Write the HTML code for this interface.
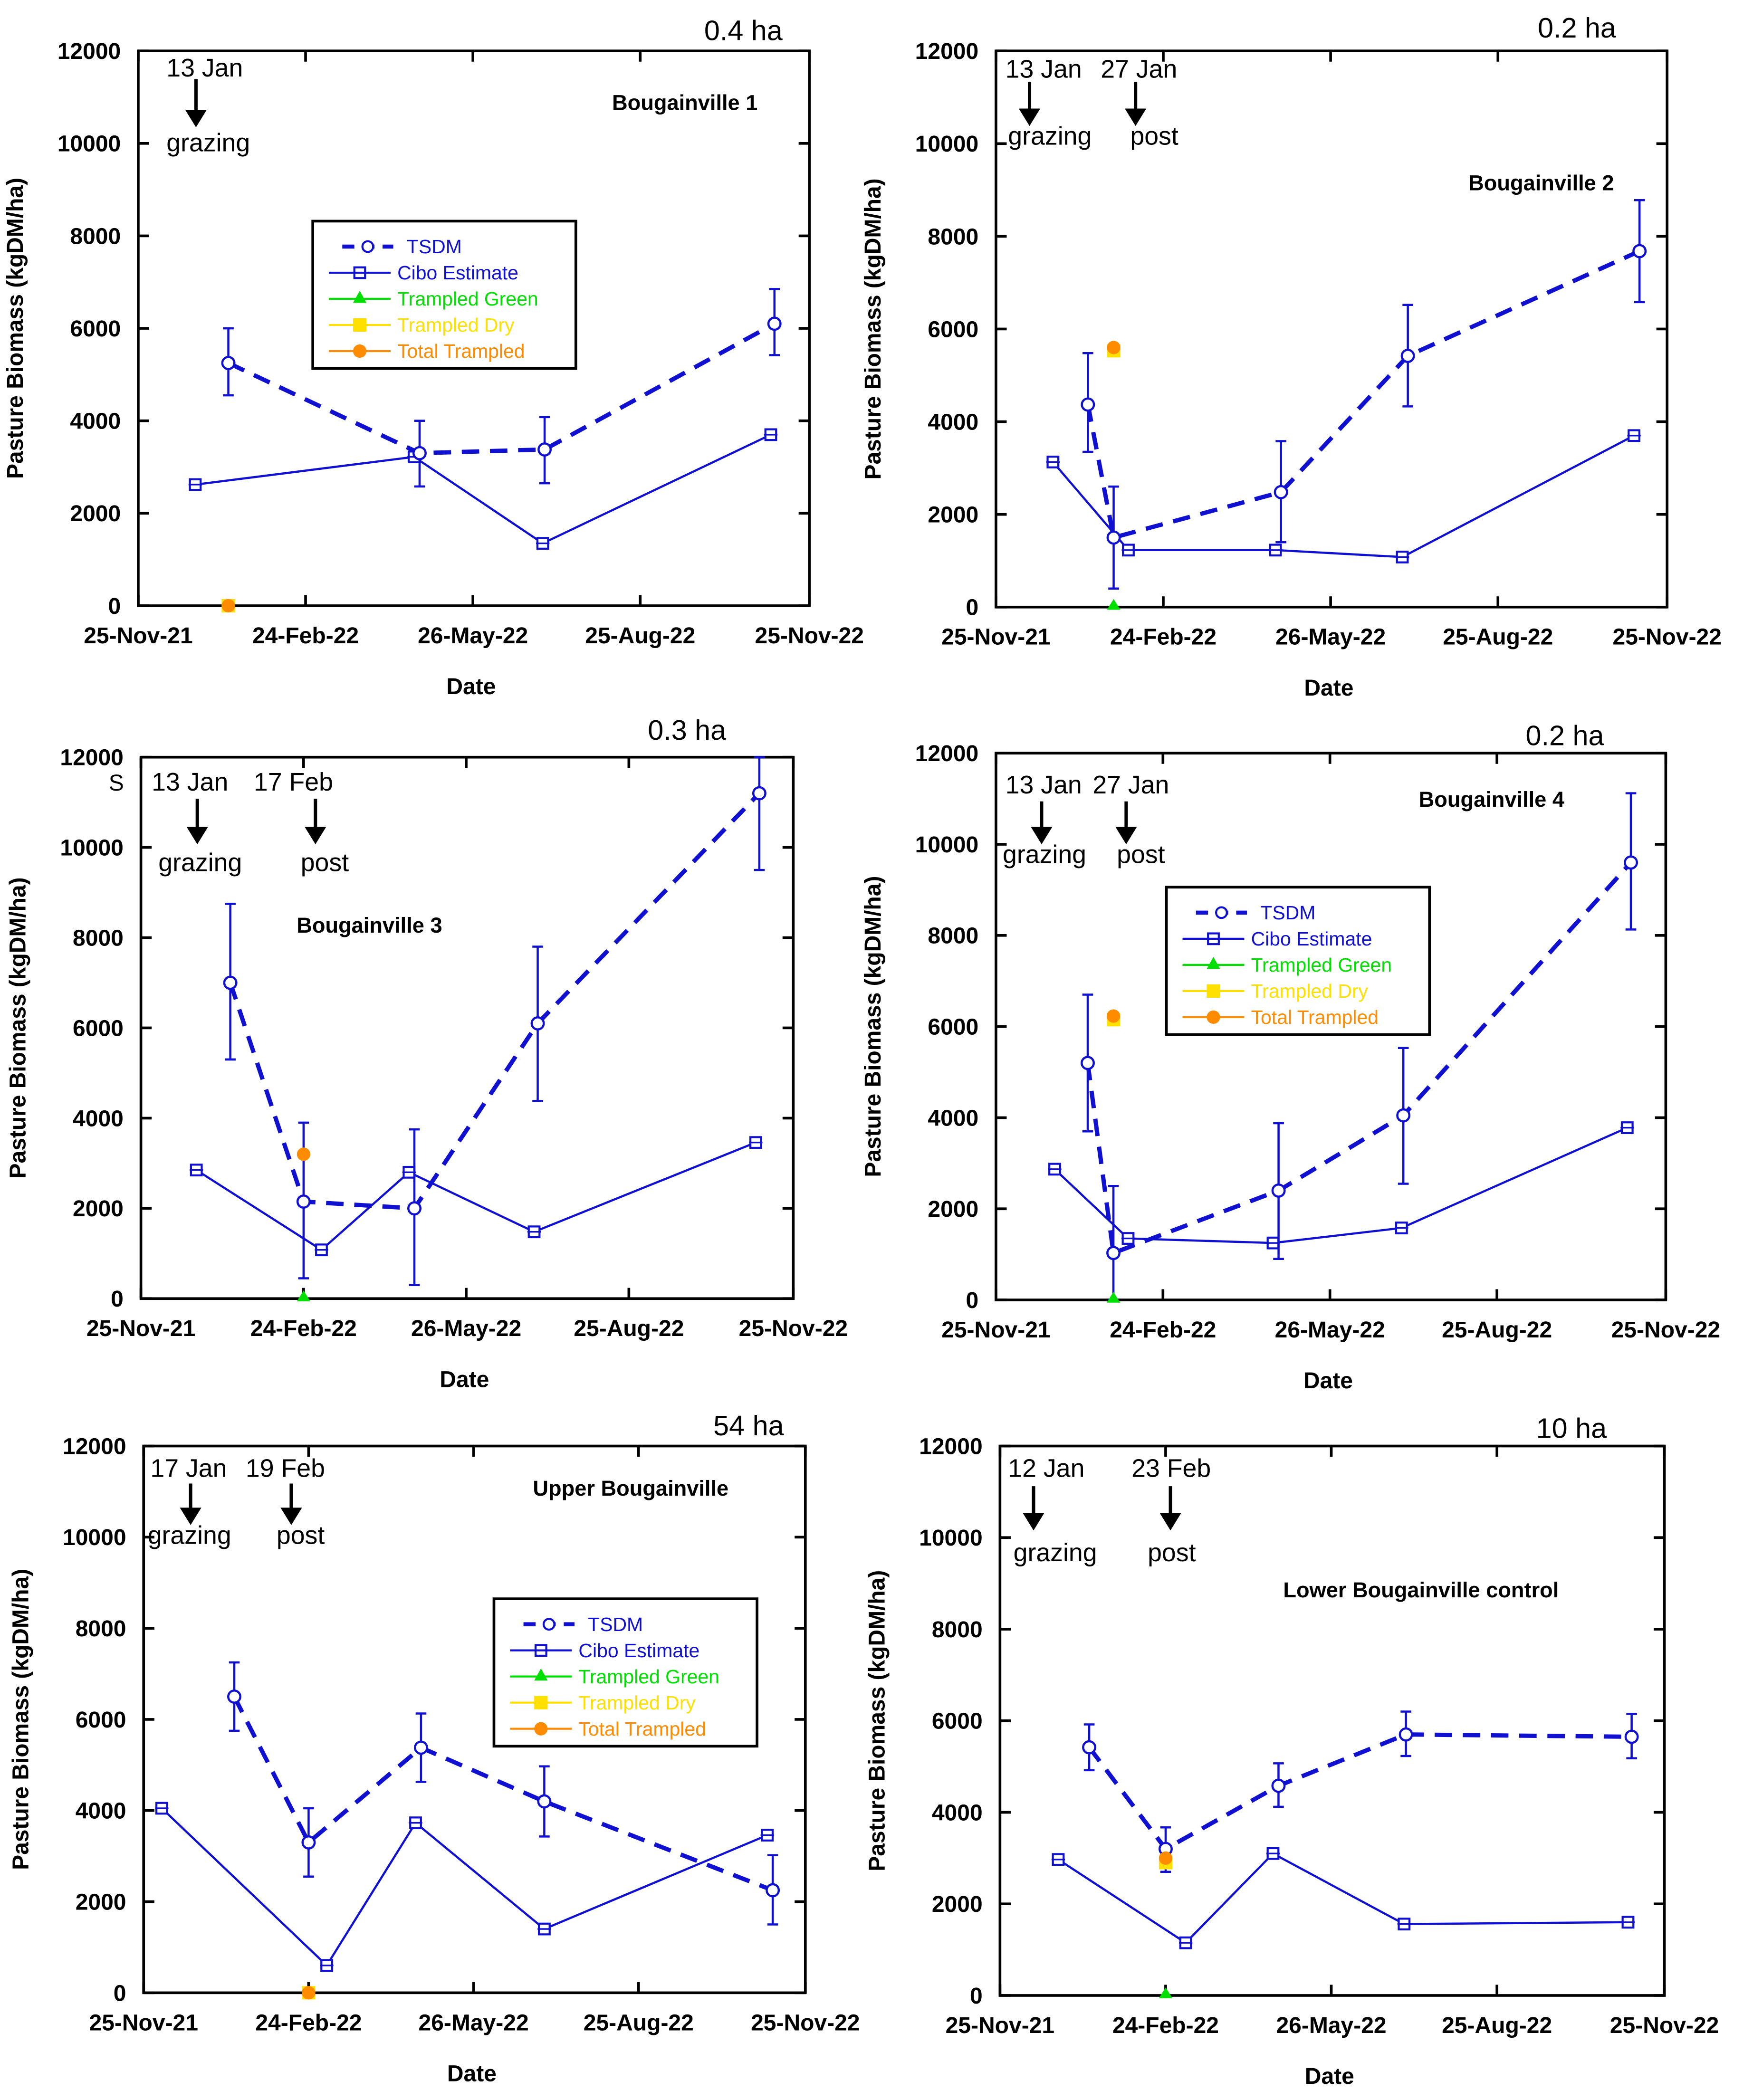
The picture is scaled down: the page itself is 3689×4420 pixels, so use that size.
<!DOCTYPE html>
<html><head><meta charset="utf-8"><style>
html,body{margin:0;padding:0;background:#fff}
svg{display:block}
text{font-family:"Liberation Sans",sans-serif}
</style></head><body>
<svg id="chart" xmlns="http://www.w3.org/2000/svg" width="3689" height="4420" viewBox="3 1 1306 1567" preserveAspectRatio="none"></svg>
<script>
// x values are days since 25-Nov-21; y in kgDM/ha
const xTickLabels = ["25-Nov-21","24-Feb-22","26-May-22","25-Aug-22","25-Nov-22"];
const xTickDays = [0,91,182,273,365];
const yTicks = [0,2000,4000,6000,8000,10000,12000];

const p1TsdmDays=[49,153,221,346], p1TsdmVals=[5250,3300,3380,6100], p1TsdmLo=[4550,2580,2650,5420], p1TsdmHi=[6000,4000,4080,6850];
const p1CiboDays=[31,150,220,344], p1CiboVals=[2620,3220,1350,3700];
const p1TramDays=[49], p1TramGreen=[null], p1TramDry=[0], p1TramTotal=[0];

const p2TsdmDays=[50,64,155,224,350], p2TsdmVals=[4370,1500,2480,5420,7680], p2TsdmLo=[3350,400,1400,4330,6580], p2TsdmHi=[5480,2600,3580,6520,8780];
const p2CiboDays=[31,72,152,221,347], p2CiboVals=[3130,1230,1230,1080,3700];
const p2TramDays=[64], p2TramGreen=[0], p2TramDry=[5530], p2TramTotal=[5600];

const p3TsdmDays=[50,91,153,222,346], p3TsdmVals=[7000,2150,2000,6100,11200], p3TsdmLo=[5300,450,300,4380,9500], p3TsdmHi=[8750,3900,3750,7800,12000];
const p3CiboDays=[31,101,150,220,344], p3CiboVals=[2850,1080,2800,1480,3460];
const p3TramDays=[91], p3TramGreen=[0], p3TramDry=[null], p3TramTotal=[3200];

const p4TsdmDays=[50,64,154,222,346], p4TsdmVals=[5200,1030,2400,4050,9600], p4TsdmLo=[3700,0,900,2550,8130], p4TsdmHi=[6700,2500,3880,5530,11120];
const p4CiboDays=[32,72,151,221,344], p4CiboVals=[2870,1350,1250,1580,3780];
const p4TramDays=[64], p4TramGreen=[0], p4TramDry=[6150], p4TramTotal=[6230];

const p5TsdmDays=[50,91,153,221,347], p5TsdmVals=[6500,3300,5380,4200,2250], p5TsdmLo=[5750,2550,4630,3430,1500], p5TsdmHi=[7250,4050,6130,4970,3020];
const p5CiboDays=[10,101,150,221,344], p5CiboVals=[4050,600,3730,1400,3460];
const p5TramDays=[91], p5TramGreen=[null], p5TramDry=[0], p5TramTotal=[0];

const p6TsdmDays=[49,91,153,223,347], p6TsdmVals=[5420,3200,4580,5700,5650], p6TsdmLo=[4920,2700,4120,5230,5180], p6TsdmHi=[5920,3670,5070,6200,6150];
const p6CiboDays=[32,102,150,222,345], p6CiboVals=[2970,1150,3100,1560,1600];
const p6TramDays=[91], p6TramGreen=[0], p6TramDry=[2900], p6TramTotal=[3000];

const NS="http://www.w3.org/2000/svg";
const svg=document.getElementById('chart');
function mk(tag,attrs,parent,txt){const e=document.createElementNS(NS,tag);for(const k in attrs)e.setAttribute(k,attrs[k]);if(txt!==undefined)e.textContent=txt;(parent||svg).appendChild(e);return e;}

const panels=[
 {L:106,R:606,T:39,B:453,name:'bougainville-1',tsdm:[p1TsdmDays,p1TsdmVals,p1TsdmLo,p1TsdmHi],cibo:[p1CiboDays,p1CiboVals],tram:[p1TramDays,p1TramGreen,p1TramDry,p1TramTotal]},
 {L:745,R:1245,T:39,B:454,name:'bougainville-2',tsdm:[p2TsdmDays,p2TsdmVals,p2TsdmLo,p2TsdmHi],cibo:[p2CiboDays,p2CiboVals],tram:[p2TramDays,p2TramGreen,p2TramDry,p2TramTotal]},
 {L:108,R:594,T:566,B:970,name:'bougainville-3',tsdm:[p3TsdmDays,p3TsdmVals,p3TsdmLo,p3TsdmHi],cibo:[p3CiboDays,p3CiboVals],tram:[p3TramDays,p3TramGreen,p3TramDry,p3TramTotal]},
 {L:745,R:1244,T:563,B:971,name:'bougainville-4',tsdm:[p4TsdmDays,p4TsdmVals,p4TsdmLo,p4TsdmHi],cibo:[p4CiboDays,p4CiboVals],tram:[p4TramDays,p4TramGreen,p4TramDry,p4TramTotal]},
 {L:110,R:603,T:1080,B:1488,name:'upper-bougainville',tsdm:[p5TsdmDays,p5TsdmVals,p5TsdmLo,p5TsdmHi],cibo:[p5CiboDays,p5CiboVals],tram:[p5TramDays,p5TramGreen,p5TramDry,p5TramTotal]},
 {L:748,R:1243,T:1080,B:1490,name:'lower-bougainville-control',tsdm:[p6TsdmDays,p6TsdmVals,p6TsdmLo,p6TsdmHi],cibo:[p6CiboDays,p6CiboVals],tram:[p6TramDays,p6TramGreen,p6TramDry,p6TramTotal]}
];
const BLUE='#1010d0';

panels.forEach(p=>{
 const g=mk('g',{});
 
 
 const xs=d=>p.L+(d/365)*(p.R-p.L);
 const ys=v=>p.B-(v/12000)*(p.B-p.T);
 const fr=mk('rect',{x:p.L,y:p.T,width:p.R-p.L,height:p.B-p.T,fill:'none',stroke:'#000','stroke-width':2},g);
 
 
 yTicks.forEach(v=>{
  const y=ys(v);
  mk('line',{x1:p.L,x2:p.L+8,y1:y,y2:y,stroke:'#000','stroke-width':2},g);
  mk('line',{x1:p.R,x2:p.R-8,y1:y,y2:y,stroke:'#000','stroke-width':2},g);
  const t=mk('text',{x:p.L-13,y:y+6,'text-anchor':'end','font-size':17,'font-weight':'bold'},g,String(v));
  
  
 });
 xTickDays.forEach((d,i)=>{
  const x=xs(d);
  mk('line',{x1:x,x2:x,y1:p.B,y2:p.B-8,stroke:'#000','stroke-width':2},g);
  mk('line',{x1:x,x2:x,y1:p.T,y2:p.T+8,stroke:'#000','stroke-width':2},g);
  const t=mk('text',{x:x,y:p.B+28,'text-anchor':'middle','font-size':17,'font-weight':'bold'},g,xTickLabels[i]);
  
  
 });
 const xt=mk('text',{x:(p.L+p.R)/2-2,y:p.B+66,'text-anchor':'middle','font-size':17,'font-weight':'bold'},g,'Date');
 
 
 const yx=p.L-86, yy=(p.T+p.B)/2;
 const yt=mk('text',{x:yx,y:yy,'text-anchor':'middle','font-size':17,'font-weight':'bold',transform:`rotate(-90 ${yx} ${yy})`},g,'Pasture Biomass (kgDM/ha)');
 
 

 const [cd,cv]=p.cibo;
 const cpl=mk('polyline',{points:cd.map((d,i)=>xs(d)+','+ys(cv[i])).join(' '),fill:'none',stroke:BLUE,'stroke-width':1.6},g);
 
 
 cd.forEach((d,i)=>{
  const x=xs(d),y=ys(cv[i]);
  const m=mk('rect',{x:x-4,y:y-4,width:8,height:8,fill:'#fff',stroke:BLUE,'stroke-width':1.5},g);
  
  
  mk('line',{x1:x-5,x2:x+5,y1:y,y2:y,stroke:BLUE,'stroke-width':1.2},g);
 });
 const [td,tv,tl,th]=p.tsdm;
 const tpl=mk('polyline',{points:td.map((d,i)=>xs(d)+','+ys(tv[i])).join(' '),fill:'none',stroke:BLUE,'stroke-width':3.2,'stroke-dasharray':'13,8'},g);
 
 
 td.forEach((d,i)=>{
  const x=xs(d);
  const eb=mk('line',{x1:x,x2:x,y1:ys(tl[i]),y2:ys(th[i]),stroke:BLUE,'stroke-width':1.6},g);
  
  
  mk('line',{x1:x-4,x2:x+4,y1:ys(tl[i]),y2:ys(tl[i]),stroke:BLUE,'stroke-width':1.6},g);
  mk('line',{x1:x-4,x2:x+4,y1:ys(th[i]),y2:ys(th[i]),stroke:BLUE,'stroke-width':1.6},g);
  const c=mk('circle',{cx:x,cy:ys(tv[i]),r:4.5,fill:'#fff',stroke:BLUE,'stroke-width':1.6},g);
  
  
 });
 const [rd,rg,rdy,rt]=p.tram;
 rd.forEach((d,i)=>{
  const x=xs(d);
  if(rg[i]!==null){const y=ys(rg[i]);const m=mk('polygon',{points:`${x},${y-6} ${x-5},${y+2} ${x+5},${y+2}`,fill:'#00e000'},g);
   
   }
  if(rdy[i]!==null){const y=ys(rdy[i]);const m=mk('rect',{x:x-5,y:y-5,width:10,height:10,fill:'#ffe000'},g);
   
   }
  if(rt[i]!==null){const m=mk('circle',{cx:x,cy:ys(rt[i]),r:5,fill:'#ff8c00'},g);
   
   }
 });
});

function txt(x,y,s,size,bold,name,anchor){
 const t=mk('text',{x:x,y:y,'font-size':size,'font-weight':bold?'bold':'normal','text-anchor':anchor||'start'},svg,s);
 
 
}
function arrow(x,y1,y2){
 const a=mk('g',{});
 
 
 mk('line',{x1:x,x2:x,y1:y1,y2:y2-10,stroke:'#000','stroke-width':2.5},a);
 mk('polygon',{points:`${x-8},${y2-13} ${x+8},${y2-13} ${x},${y2}`,fill:'#000'},a);
}
const anns=[
 [127,58,'13 Jan'],[127,114,'grazing'],
 [752,59,'13 Jan'],[754,109,'grazing'],[823,59,'27 Jan'],[845,109,'post'],
 [116,591,'13 Jan'],[121,651,'grazing'],[192,591,'17 Feb'],[227,651,'post'],
 [752,593,'13 Jan'],[750,645,'grazing'],[817,593,'27 Jan'],[835,645,'post'],
 [115,1103,'17 Jan'],[113,1153,'grazing'],[186,1103,'19 Feb'],[209,1153,'post'],
 [754,1103,'12 Jan'],[758,1166,'grazing'],[846,1103,'23 Feb'],[858,1166,'post']
];
anns.forEach(a=>txt(a[0],a[1],a[2],19,false,'event-annotation'));
[[149,60,96],[770,62,95],[849,62,95],[150,597,631],[238,597,631],[779,599,631],[842,599,631],[145,1108,1139],[220,1108,1139],[773,1110,1143],[875,1110,1143]].forEach(a=>arrow(a[0],a[1],a[2]));
txt(586,31,'0.4 ha',21,false,'area-label','end');
txt(1207,29,'0.2 ha',21,false,'area-label','end');
txt(544,553,'0.3 ha',21,false,'area-label','end');
txt(1198,557,'0.2 ha',21,false,'area-label','end');
txt(587,1072,'54 ha',21,false,'area-label','end');
txt(1200,1074,'10 ha',21,false,'area-label','end');
txt(459,83,'Bougainville 1',16,true,'panel-title');
txt(1097,143,'Bougainville 2',16,true,'panel-title');
txt(224,697,'Bougainville 3',16,true,'panel-title');
txt(1060,603,'Bougainville 4',16,true,'panel-title');
txt(400,1117,'Upper Bougainville',16,true,'panel-title');
txt(959,1193,'Lower Bougainville control',16,true,'panel-title');
txt(84,591,'S',17,false,'stray-mark');

function legend(x,y){
 const g=mk('g',{});
 
 
 mk('rect',{x:x,y:y,width:196,height:110,fill:'#fff',stroke:'#000','stroke-width':2},g);
 const items=[['TSDM',BLUE,'c'],['Cibo Estimate',BLUE,'s'],['Trampled Green','#00e000','t'],['Trampled Dry','#ffe000','q'],['Total Trampled','#ff8c00','o']];
 items.forEach((it,i)=>{
  const yy=y+19+i*19.5, mx=x+35;
  const e=mk('g',{},g);
  
  
  if(it[2]==='c'){mk('line',{x1:x+22,x2:x+60,y1:yy,y2:yy,stroke:BLUE,'stroke-width':3,'stroke-dasharray':'9,6'},e);mk('circle',{cx:mx+6,cy:yy,r:4,fill:'#fff',stroke:BLUE,'stroke-width':1.5},e);}
  else{mk('line',{x1:x+12,x2:x+58,y1:yy,y2:yy,stroke:it[1],'stroke-width':1.5},e);
   if(it[2]==='s')mk('rect',{x:mx-4,y:yy-4,width:8,height:8,fill:'none',stroke:BLUE,'stroke-width':1.5},e);
   if(it[2]==='t')mk('polygon',{points:`${mx},${yy-6} ${mx-5},${yy+3} ${mx+5},${yy+3}`,fill:it[1]},e);
   if(it[2]==='q')mk('rect',{x:mx-5,y:yy-5,width:10,height:10,fill:it[1]},e);
   if(it[2]==='o')mk('circle',{cx:mx,cy:yy,r:5,fill:it[1]},e);}
  mk('text',{x:it[2]==='c'?x+70:x+63,y:yy+5,'font-size':14.5,fill:it[1]},e,it[0]);
 });
}
legend(236,166);
legend(872,663);
legend(371,1194);
</script>
</body></html>
